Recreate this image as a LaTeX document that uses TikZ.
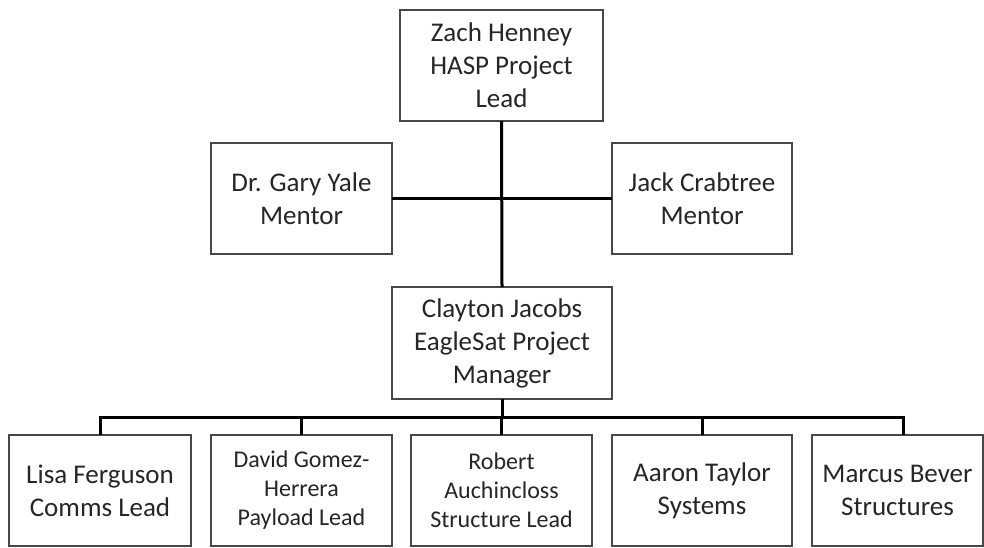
\documentclass[tikz,border=0pt]{standalone}
\usepackage{fontspec}
\setmainfont{Carlito}
\begin{document}
\begin{tikzpicture}[x=1pt,y=-1pt,
  box/.style={draw=black!72, line width=1.5pt, fill=white, inner sep=0pt, outer sep=0pt,
    align=center, text=black!85, minimum height=111pt,
    font=\fontsize{27}{33}\selectfont},
  smallbox/.style={box, font=\fontsize{24}{29}\selectfont},
  conn/.style={draw=black, line width=3pt}]
\useasboundingbox[fill=white] (0,0) rectangle (984,548);
% connectors first (boxes drawn on top)
\node[box, minimum width=203pt] (top) at (501.5,65.5) {Zach Henney\\HASP Project\\Lead};
\node[box, minimum width=181pt] (gy) at (301.5,198.5) {Dr. Gary Yale\\Mentor};
\node[box, minimum width=180pt] (jc) at (702,198.5) {Jack Crabtree\\Mentor};
\node[box, minimum width=220pt, minimum height=112pt] (mid) at (502,343) {Clayton Jacobs\\EagleSat Project\\Manager};
\node[box, minimum width=182pt] (b1) at (100,490.5) {Lisa Ferguson\\Comms Lead};
\node[smallbox, minimum width=181pt] (b2) at (301.5,490.5) {David Gomez-\\Herrera\\Payload Lead};
\node[smallbox, minimum width=181pt] (b3) at (501.5,490.5) {Robert\\Auchincloss\\Structure Lead};
\node[box, minimum width=180pt] (b4) at (702,490.5) {Aaron Taylor\\Systems};
\node[box, minimum width=171pt] (b5) at (897.5,490.5) {Marcus Bever\\Structures};
\coordinate (bus) at (501.5,417);
\coordinate (d5) at (903,435);
\draw[conn] (top.south) -- (mid.north);
\draw[conn] (gy.east) -- (jc.west);
\draw[conn] (mid.south) -- (mid.south |- bus);
\draw[conn] (b1.north) -- (b1.north |- bus) -- (d5 |- bus) -- (d5);
\draw[conn] (b2.north) -- (b2.north |- bus);
\draw[conn] (b3.north) -- (b3.north |- bus);
\draw[conn] (b4.north) -- (b4.north |- bus);
\end{tikzpicture}
\end{document}
